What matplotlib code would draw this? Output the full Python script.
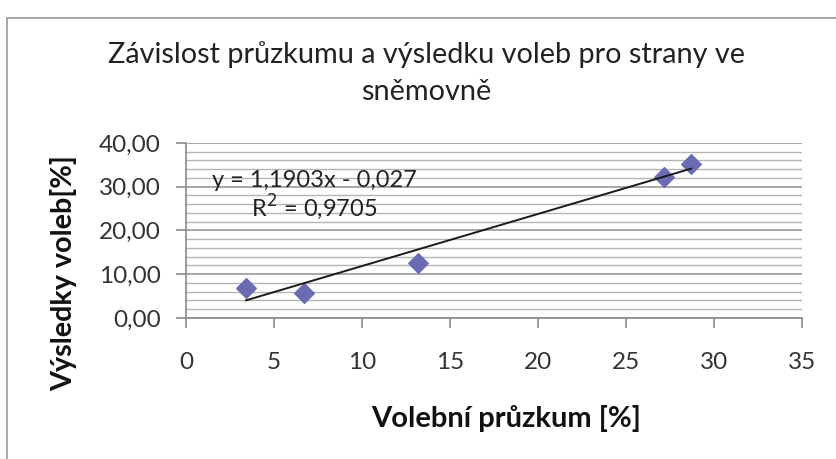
import matplotlib
matplotlib.use("Agg")
import matplotlib.pyplot as plt
import matplotlib.ticker as mticker
from matplotlib.patches import Rectangle
import numpy as np

# data
poll = [3.41, 6.72, 13.2, 27.17, 28.7]          # Volební průzkum [%]
result = [6.8, 5.6, 12.5, 32.3, 35.3]          # Výsledky voleb [%]
slope = 1.1903
intercept = -0.027
r_squared = 0.9705

x_ticks = [0, 5, 10, 15, 20, 25, 30, 35]
y_ticks = [0, 10, 20, 30, 40]

plt.rcParams["font.family"] = ["Lato", "DejaVu Sans"]

fig = plt.figure(figsize=(8.37, 4.59), dpi=100)
ax = fig.add_axes([0.2222, 0.3072, 0.736, 0.3813])

# chart frame (only top/left visible in the reference)
fig.patches.append(Rectangle((0.0085, -0.1), 1.2, 1.061, transform=fig.transFigure,
                             fill=False, edgecolor="#9a9a9a", linewidth=1.2))

ax.set_xlim(0, 35)
ax.set_ylim(0, 40)
ax.set_xticks(x_ticks)
ax.set_yticks(y_ticks)
ax.yaxis.set_minor_locator(mticker.MultipleLocator(2))
ax.yaxis.set_major_formatter(mticker.FuncFormatter(lambda v, p: f"{v:.2f}".replace(".", ",")))

ax.grid(axis="y", which="both", color="#b5b5b5", linewidth=1.0)
ax.grid(axis="y", which="major", color="#8f8f8f", linewidth=1.1)
ax.set_axisbelow(True)

for side in ("top", "right"):
    ax.spines[side].set_visible(False)
for side in ("left", "bottom"):
    ax.spines[side].set_color("#8a8a8a")
    ax.spines[side].set_linewidth(1.2)

ax.tick_params(axis="both", which="major", direction="out", length=7.2, width=1.2,
               color="#8a8a8a", labelsize=17.5, labelcolor="#333333")
ax.tick_params(axis="y", which="major", pad=11)
ax.tick_params(axis="y", which="minor", length=0)
ax.tick_params(axis="x", pad=17)

ax.scatter(poll, result, marker="D", s=100, color="#6b6bb3", edgecolor="#6b6bb3", zorder=3)

x_fit = np.array([min(poll), max(poll)])
ax.plot(x_fit, slope * x_fit + intercept, color="#1a1a1a", linewidth=1.4, zorder=4)

ax.text(1.45, 29.9, f"y = {slope:.4f}x - {abs(intercept):.3f}".replace(".", ","),
        fontsize=17, color="#222222", va="baseline", ha="left")
ax.text(3.7, 23.1, f"R$^2$ = {r_squared:.4f}".replace(".", ","),
        fontsize=17, color="#222222", va="baseline", ha="left")

fig.text(0.509, 1 - 63 / 459, "Závislost průzkumu a výsledku voleb pro strany ve",
         ha="center", va="baseline", fontsize=20.8, color="#222222")
fig.text(0.509, 1 - 100 / 459, "sněmovně",
         ha="center", va="baseline", fontsize=20.8, color="#222222")

fig.text(0.605, 1 - 427 / 459, "Volební průzkum [%]", fontsize=21, fontweight="bold",
         color="#111111", ha="center", va="baseline")
fig.text(0.076, 1 - 273 / 459, "Výsledky voleb[%]", fontsize=20.7, fontweight="bold",
         color="#111111", ha="center", va="center", rotation=90)

fig.savefig("out.png", dpi=100)
